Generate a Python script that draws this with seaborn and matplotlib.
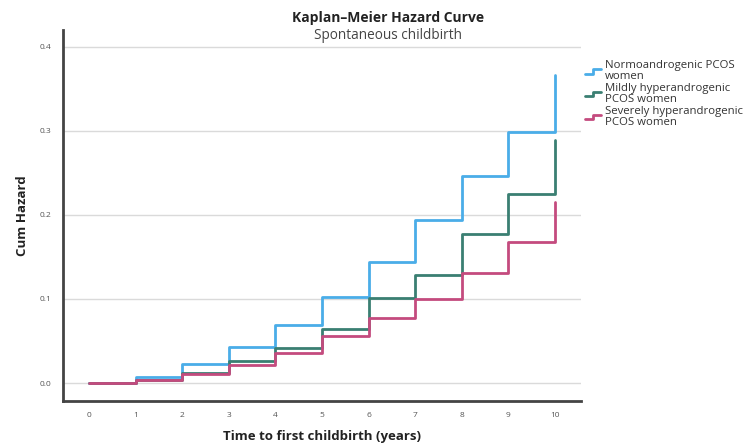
import numpy as np
import pandas as pd
import matplotlib
matplotlib.use("Agg")
import matplotlib.pyplot as plt
import seaborn as sns
from matplotlib.legend_handler import HandlerBase
from matplotlib.lines import Line2D

# ---- data ----
times = [0, 1, 2, 3, 4, 5, 6, 7, 8, 9, 10]
normo = [0.000, 0.007, 0.023, 0.043, 0.069, 0.102, 0.144, 0.194, 0.246, 0.299, 0.367]
mild = [0.000, 0.004, 0.012, 0.026, 0.042, 0.064, 0.101, 0.129, 0.177, 0.225, 0.289]
severe = [0.000, 0.003, 0.011, 0.021, 0.036, 0.056, 0.077, 0.100, 0.131, 0.168, 0.215]
group_labels = ["Normoandrogenic PCOS\nwomen",
                "Mildly hyperandrogenic\nPCOS women",
                "Severely hyperandrogenic\nPCOS women"]
colors = ["#4AADE8", "#3A7F72", "#C44B7E"]
yticks = [0.0, 0.1, 0.2, 0.3, 0.4]
xticks = times

df = pd.concat([
    pd.DataFrame({"time": times, "hazard": vals, "group": lab})
    for vals, lab in zip([normo, mild, severe], group_labels)
], ignore_index=True)

sns.set_theme(style="white")
plt.rcParams["font.family"] = ["Open Sans", "DejaVu Sans"]

fig = plt.figure(figsize=(7.55, 4.46), dpi=100)
ax = fig.add_axes([0.0834, 0.1009, 0.7695 - 0.0834, 0.9327 - 0.1009])

for y in yticks:
    ax.axhline(y, color="#DADADA", lw=1.0, zorder=0)

sns.lineplot(data=df, x="time", y="hazard", hue="group", hue_order=group_labels,
             palette=colors, drawstyle="steps-post", lw=2.0, ax=ax,
             errorbar=None, legend=True)

ax.set_xlim(-0.56, 10.56)
ax.set_ylim(-0.0214, 0.420)
ax.set_xticks(xticks)
ax.set_xticklabels([str(t) for t in xticks], fontsize=6, color="#555555")
ax.set_yticks(yticks)
ax.set_yticklabels([f"{v:.1f}" for v in yticks], fontsize=6, color="#555555")
ax.tick_params(axis="both", length=0, pad=8)

for s in ["top", "right"]:
    ax.spines[s].set_visible(False)
for s in ["left", "bottom"]:
    ax.spines[s].set_color("#444444")
    ax.spines[s].set_linewidth(2.0)

ax.set_xlabel("Time to first childbirth (years)", fontsize=9.5, fontweight="bold",
              color="#222222", va="center")
ax.set_ylabel("Cum Hazard", fontsize=9.5, fontweight="bold", color="#222222",
              va="center")
ax.xaxis.set_label_coords(0.5, -0.097)
ax.yaxis.set_label_coords(-0.079, 0.5)

fig.text(0.514, 0.960, "Kaplan\u2013Meier Hazard Curve", ha="center", va="center",
         fontsize=10, fontweight="bold", color="#222222")
fig.text(0.514, 0.921, "Spontaneous childbirth", ha="center", va="center",
         fontsize=9.8, color="#444444")


class StepHandler(HandlerBase):
    def create_artists(self, legend, orig_handle, xdescent, ydescent, width,
                       height, fontsize, trans):
        xs = np.array([0, 0.5, 0.5, 1.0]) * width - xdescent
        ys = np.array([0.2, 0.2, 0.75, 0.75]) * height - ydescent
        line = Line2D(xs, ys, color=orig_handle.get_color(), lw=2.0)
        line.set_transform(trans)
        return [line]


handles, labels = ax.get_legend_handles_labels()
ax.get_legend().remove()
leg = fig.legend(handles, labels, loc="upper left",
                 bbox_to_anchor=(0.767, 0.878), frameon=False, fontsize=8.2,
                 handler_map={h: StepHandler() for h in handles},
                 handlelength=1.4, handletextpad=0.4, labelspacing=0.08,
                 borderpad=0.0)
for t in leg.get_texts():
    t.set_color("#333333")
    t.set_linespacing(1.0)

fig.savefig("out.png", dpi=100)
